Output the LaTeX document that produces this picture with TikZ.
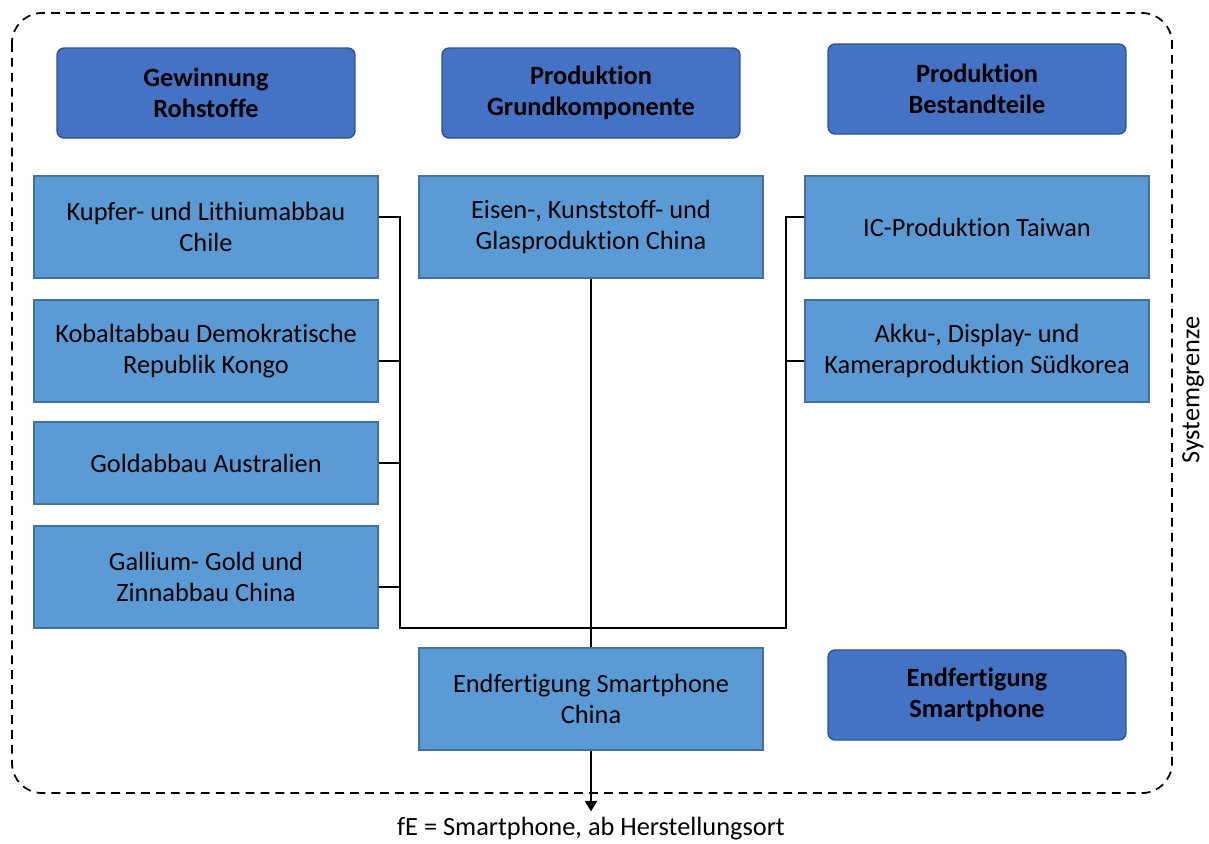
\documentclass[tikz,border=0pt]{standalone}
\usepackage{fontspec}
\setmainfont{Carlito}[Ligatures={NoCommon}]
\usetikzlibrary{arrows.meta}
\definecolor{kopfblau}{HTML}{4472C4}
\definecolor{kopfrand}{HTML}{2F528F}
\definecolor{schrittblau}{HTML}{5B9BD5}
\definecolor{schrittrand}{HTML}{41719C}
\begin{document}
\begin{tikzpicture}[x=0.02cm,y=-0.02cm,
    font=\fontsize{15}{17.5}\selectfont,
    kopf/.style={draw=kopfrand,fill=kopfblau,rounded corners=4pt,line width=0.8pt,
        minimum width=5.96cm,minimum height=1.8cm,align=center,
        font=\fontsize{15}{17.5}\selectfont\bfseries},
    schritt/.style={draw=schrittrand,fill=schrittblau,line width=0.8pt,
        minimum width=6.88cm,minimum height=2.04cm,align=center},
    linie/.style={line width=1pt}]
    \useasboundingbox (0,0) rectangle (1209,843);
    % Systemgrenze
    \draw[line width=1pt,dash pattern=on 5pt off 3.5pt,rounded corners=0.6cm]
        (12,13) rectangle (1172,793);
    \node[rotate=90] (grenze) at (1193,390) {Systemgrenze};
    % Kopfzeile
    \node[kopf] (rohstoffe) at (206,93) {Gewinnung\\Rohstoffe};
    \node[kopf] (grundkomp) at (591,93) {Produktion\\Grundkomponente};
    \node[kopf] (bestandteile) at (977,89) {Produktion\\Bestandteile};
    \node[kopf] (endkopf) at (977,695) {Endfertigung\\Smartphone};
    % Rohstoffe
    \node[schritt] (kupfer) at (206,227) {Kupfer- und Lithiumabbau\\Chile};
    \node[schritt] (kobalt) at (206,351) {Kobaltabbau Demokratische\\Republik Kongo};
    \node[schritt,minimum height=1.64cm] (gold) at (206,463) {Goldabbau Australien};
    \node[schritt] (gallium) at (206,577) {Gallium- Gold und\\Zinnabbau China};
    % Grundkomponenten und Bestandteile
    \node[schritt] (eisen) at (591,227) {Eisen-, Kunststoff- und\\Glasproduktion China};
    \node[schritt] (ic) at (977,227) {IC-Produktion Taiwan};
    \node[schritt] (akku) at (977,351) {Akku-, Display- und\\Kameraproduktion S\"udkorea};
    \node[schritt] (endchina) at (591,699) {Endfertigung Smartphone\\China};
    \node (fe) at (591,829) {fE = Smartphone, ab Herstellungsort};
    % Sammelschienen
    \coordinate (LO) at (400,217);
    \coordinate (LU) at (400,628);
    \coordinate (RO) at (786,217);
    \coordinate (RU) at (786,628);
    \draw[linie] (kupfer.east |- LO) -- (LO) -- (LU) -- (RU) -- (RO) -- (ic.west |- RO);
    \draw[linie] (kobalt.east |- 0,361) -- (400,361);
    \draw[linie] (gold.east) -- (gold.east -| LO);
    \draw[linie] (gallium.east |- 0,587) -- (400,587);
    \draw[linie] (akku.west |- 0,361) -- (786,361);
    \draw[linie] (eisen.south) -- (endchina.north);
    \draw[linie,-{Triangle[width=7pt,length=6pt]}] (endchina.south) -- (fe.north);
\end{tikzpicture}
\end{document}
